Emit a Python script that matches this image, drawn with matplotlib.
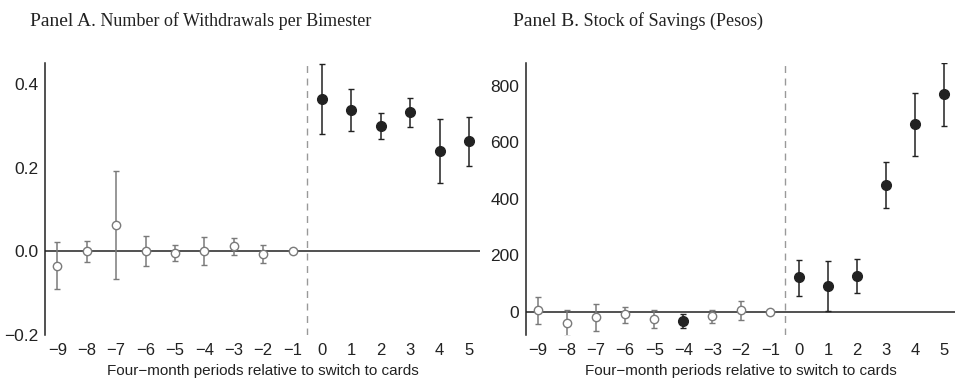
import numpy as np
import matplotlib
matplotlib.use("Agg")
import matplotlib.pyplot as plt

periods = [-9, -8, -7, -6, -5, -4, -3, -2, -1, 0, 1, 2, 3, 4, 5]

# Panel A: withdrawals per bimester
a_est = [-0.034, 0.0, 0.063, 0.0, -0.004, 0.0, 0.012, -0.006, 0.0,
         0.364, 0.337, 0.299, 0.333, 0.240, 0.263]
a_hi = [0.022, 0.024, 0.192, 0.036, 0.016, 0.033, 0.032, 0.016, 0.0,
        0.448, 0.389, 0.330, 0.367, 0.317, 0.320]
a_lo = [-0.089, -0.025, -0.067, -0.035, -0.023, -0.033, -0.010, -0.027, 0.0,
        0.280, 0.287, 0.268, 0.297, 0.164, 0.205]
a_sig = [0, 0, 0, 0, 0, 0, 0, 0, 0, 1, 1, 1, 1, 1, 1]

# Panel B: stock of savings (pesos)
b_est = [6, -38, -20, -8, -26, -33, -15, 5, 0,
         122, 91, 125, 448, 663, 770]
b_hi = [53, 5, 28, 18, 7, -7, 7, 37, 0,
        185, 178, 187, 531, 775, 881]
b_lo = [-42, -84, -67, -38, -59, -58, -40, -28, 0,
        57, 4, 65, 366, 551, 657]
b_sig = [0, 0, 0, 0, 0, 1, 0, 0, 0, 1, 1, 1, 1, 1, 1]

GREY = "#7a7a7a"
DARK = "#222222"
plt.rcParams["font.family"] = ["Liberation Sans", "DejaVu Sans"]

fig = plt.figure(figsize=(9.58, 3.82), dpi=100)
W, H = 958, 382
axA = fig.add_axes([45 / W, 1 - 335 / H, (480 - 45) / W, (335 - 63) / H])
axB = fig.add_axes([526 / W, 1 - 335 / H, (955 - 526) / W, (335 - 63) / H])


def draw(ax, est, lo, hi, sig, ylim, yticks, ylabels):
    x = np.array(periods)
    est = np.array(est, float)
    lo = np.array(lo, float)
    hi = np.array(hi, float)
    sig = np.array(sig, bool)
    ax.axhline(0, color="#222222", lw=1.1, zorder=1)
    ax.axvline(-0.5, color="#999999", lw=1.0, ls=(0, (5, 4)), zorder=1)
    for s in (False, True):
        m = sig == s
        has_bar = m & (hi != lo)
        col = DARK if s else GREY
        ax.errorbar(x[has_bar], est[has_bar],
                    yerr=[est[has_bar] - lo[has_bar], hi[has_bar] - est[has_bar]],
                    fmt="none", ecolor=col, elinewidth=1.1, capsize=2.5,
                    capthick=1.0, zorder=2)
        if s:
            ax.plot(x[m], est[m], "o", ms=7, color=DARK, zorder=3)
        else:
            ax.plot(x[m], est[m], "o", ms=6, mfc="white", mec=GREY,
                    mew=1.0, zorder=3)
    ax.set_xlim(-9.42, 5.37)
    ax.set_ylim(*ylim)
    ax.set_xticks(periods)
    ax.set_xticklabels([str(p).replace("-", "\u2212") for p in periods])
    ax.set_yticks(yticks)
    ax.set_yticklabels(ylabels)
    for sp in ("top", "right", "bottom"):
        ax.spines[sp].set_visible(False)
    ax.spines["left"].set_color("#222222")
    ax.spines["left"].set_linewidth(1.1)
    ax.tick_params(length=0, labelsize=12.5, colors="#222222", pad=5)
    ax.tick_params(axis="x", labelsize=12, pad=6)
    ax.set_xlabel("Four\u2212month periods relative to switch to cards",
                  fontsize=11, color="#222222", labelpad=4)


draw(axA, a_est, a_lo, a_hi, a_sig, (-0.2, 0.45),
     [-0.2, 0.0, 0.2, 0.4], ["\u22120.2", "0.0", "0.2", "0.4"])
draw(axB, b_est, b_lo, b_hi, b_sig, (-82, 880),
     [0, 200, 400, 600, 800], ["0", "200", "400", "600", "800"])

# titles: "Panel X." larger, rest smaller, serif
fig.canvas.draw()
renderer = fig.canvas.get_renderer()
for x0, head, rest in [(30, "Panel A.", " Number of Withdrawals per Bimester"),
                       (513, "Panel B.", " Stock of Savings (Pesos)")]:
    t = fig.text(x0 / W, 1 - 26 / H, head, fontsize=14, family="Liberation Serif",
                 color="#222222", va="baseline")
    bb = t.get_window_extent(renderer)
    fig.text(bb.x1 / W, 1 - 26 / H, rest, fontsize=13, family="Liberation Serif",
             color="#222222", va="baseline")

fig.savefig("out.png", dpi=100)
